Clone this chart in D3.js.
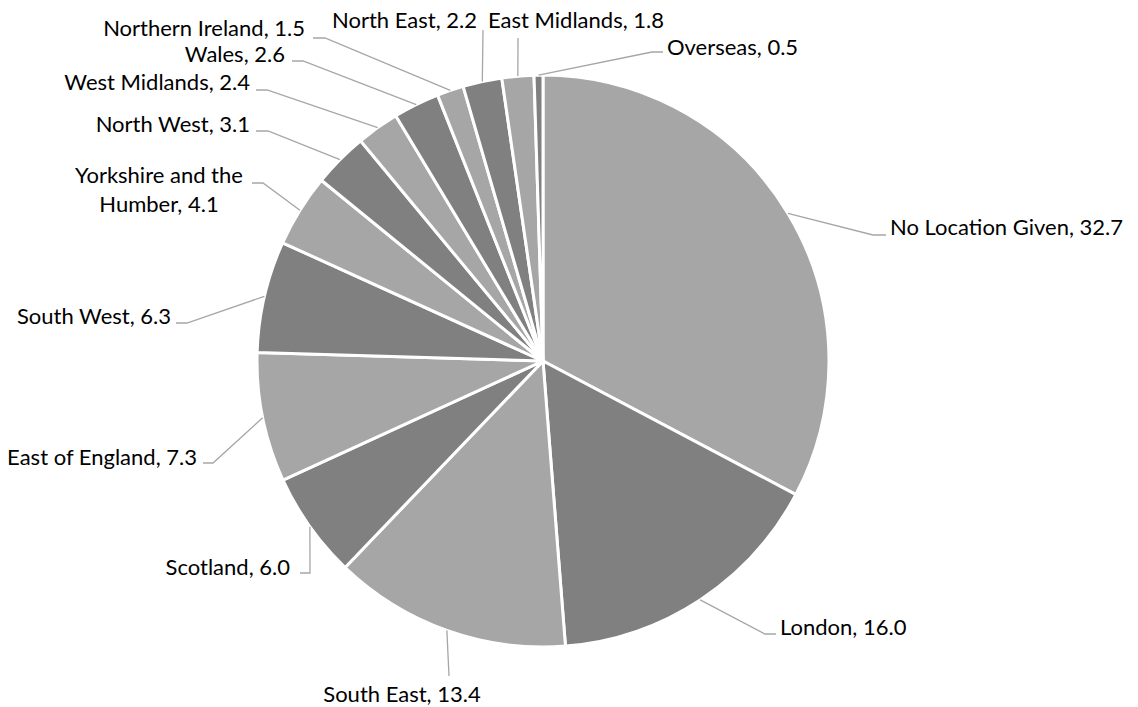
<!DOCTYPE html>
<html>
<head>
<meta charset="utf-8">
<script src="https://cdn.jsdelivr.net/npm/d3@7"></script>
<style>
  body { margin: 0; background: #ffffff; }
  text { font-family: "Lato", "DejaVu Sans", sans-serif; font-size: 22px; fill: #000000; }
</style>
</head>
<body>
<svg id="chart" width="1138" height="707"></svg>
<script>
// Share of records by region (%)
const regions = [
  "No Location Given", "London", "South East", "Scotland", "East of England",
  "South West", "Yorkshire and the Humber", "North West", "West Midlands",
  "Wales", "Northern Ireland", "North East", "East Midlands", "Overseas"
];
const shares = [32.7, 16.0, 13.4, 6.0, 7.3, 6.3, 4.1, 3.1, 2.4, 2.6, 1.5, 2.2, 1.8, 0.5];
const shades = ["#a6a6a6", "#808080"];

// Label placement: text anchor point and leader-line bend points (after the slice edge)
const labelLayout = [
  { tx: 890, ty: 235, anchor: "start",  pts: [[873, 235], [886, 235]] },
  { tx: 780, ty: 635, anchor: "start",  pts: [[765, 634], [776, 634]] },
  { tx: 402, ty: 702, anchor: "middle", pts: [[449, 676]] },
  { tx: 290, ty: 575, anchor: "end",    pts: [[310, 573], [300, 573]] },
  { tx: 197, ty: 465, anchor: "end",    pts: [[213, 463], [203, 463]] },
  { tx: 171, ty: 324, anchor: "end",    pts: [[187, 323], [176, 323]] },
  { tx: 159, ty: 183, anchor: "middle", pts: [[263, 183], [252, 183]], wrap: 17, lineGap: 29 },
  { tx: 250, ty: 132, anchor: "end",    pts: [[268, 131], [256, 131]] },
  { tx: 250, ty: 90,  anchor: "end",    pts: [[267, 90], [256, 90]] },
  { tx: 285, ty: 62,  anchor: "end",    pts: [[303, 61], [292, 61]] },
  { tx: 305, ty: 36,  anchor: "end",    pts: [[325, 38], [313, 38]] },
  { tx: 477, ty: 28,  anchor: "end",    pts: [[483, 30]] },
  { tx: 488, ty: 28,  anchor: "start",  pts: [[518, 38]] },
  { tx: 667, ty: 55,  anchor: "start",  pts: [[652, 52], [663, 52]] }
];

const cx = 543, cy = 361, radius = 286;

const svg = d3.select("#chart");
const g = svg.append("g").attr("transform", `translate(${cx},${cy})`);

const pie = d3.pie().sort(null).value(d => d.value);
const slices = pie(regions.map((name, i) => ({ name, value: shares[i], i })));

const arc = d3.arc().innerRadius(0).outerRadius(radius);
const edge = d3.arc().innerRadius(radius).outerRadius(radius);

g.selectAll("path.slice")
  .data(slices)
  .join("path")
  .attr("class", "slice")
  .attr("d", arc)
  .attr("fill", d => shades[d.index % 2])
  .attr("stroke", "#ffffff")
  .attr("stroke-width", 3)
  .attr("stroke-linejoin", "round");

// Leader lines from each slice's outer edge to its label
const line = d3.line();
svg.selectAll("path.leader")
  .data(slices)
  .join("path")
  .attr("class", "leader")
  .attr("fill", "none")
  .attr("stroke", "#a6a6a6")
  .attr("stroke-width", 1.3)
  .attr("d", d => {
    const [ex, ey] = edge.centroid(d);
    return line([[cx + ex, cy + ey], ...labelLayout[d.index].pts]);
  });

// Category labels with values
const labels = svg.selectAll("text.label")
  .data(slices)
  .join("text")
  .attr("class", "label")
  .attr("text-anchor", d => labelLayout[d.index].anchor);

labels.each(function (d) {
  const lay = labelLayout[d.index];
  const full = `${d.data.name}, ${d.data.value.toFixed(1)}`;
  const lines = lay.wrap ? [full.slice(0, lay.wrap), full.slice(lay.wrap + 1)] : [full];
  d3.select(this).selectAll("tspan")
    .data(lines)
    .join("tspan")
    .attr("x", lay.tx)
    .attr("y", (t, k) => lay.ty + k * (lay.lineGap || 0))
    .text(t => t);
});
</script>
</body>
</html>
